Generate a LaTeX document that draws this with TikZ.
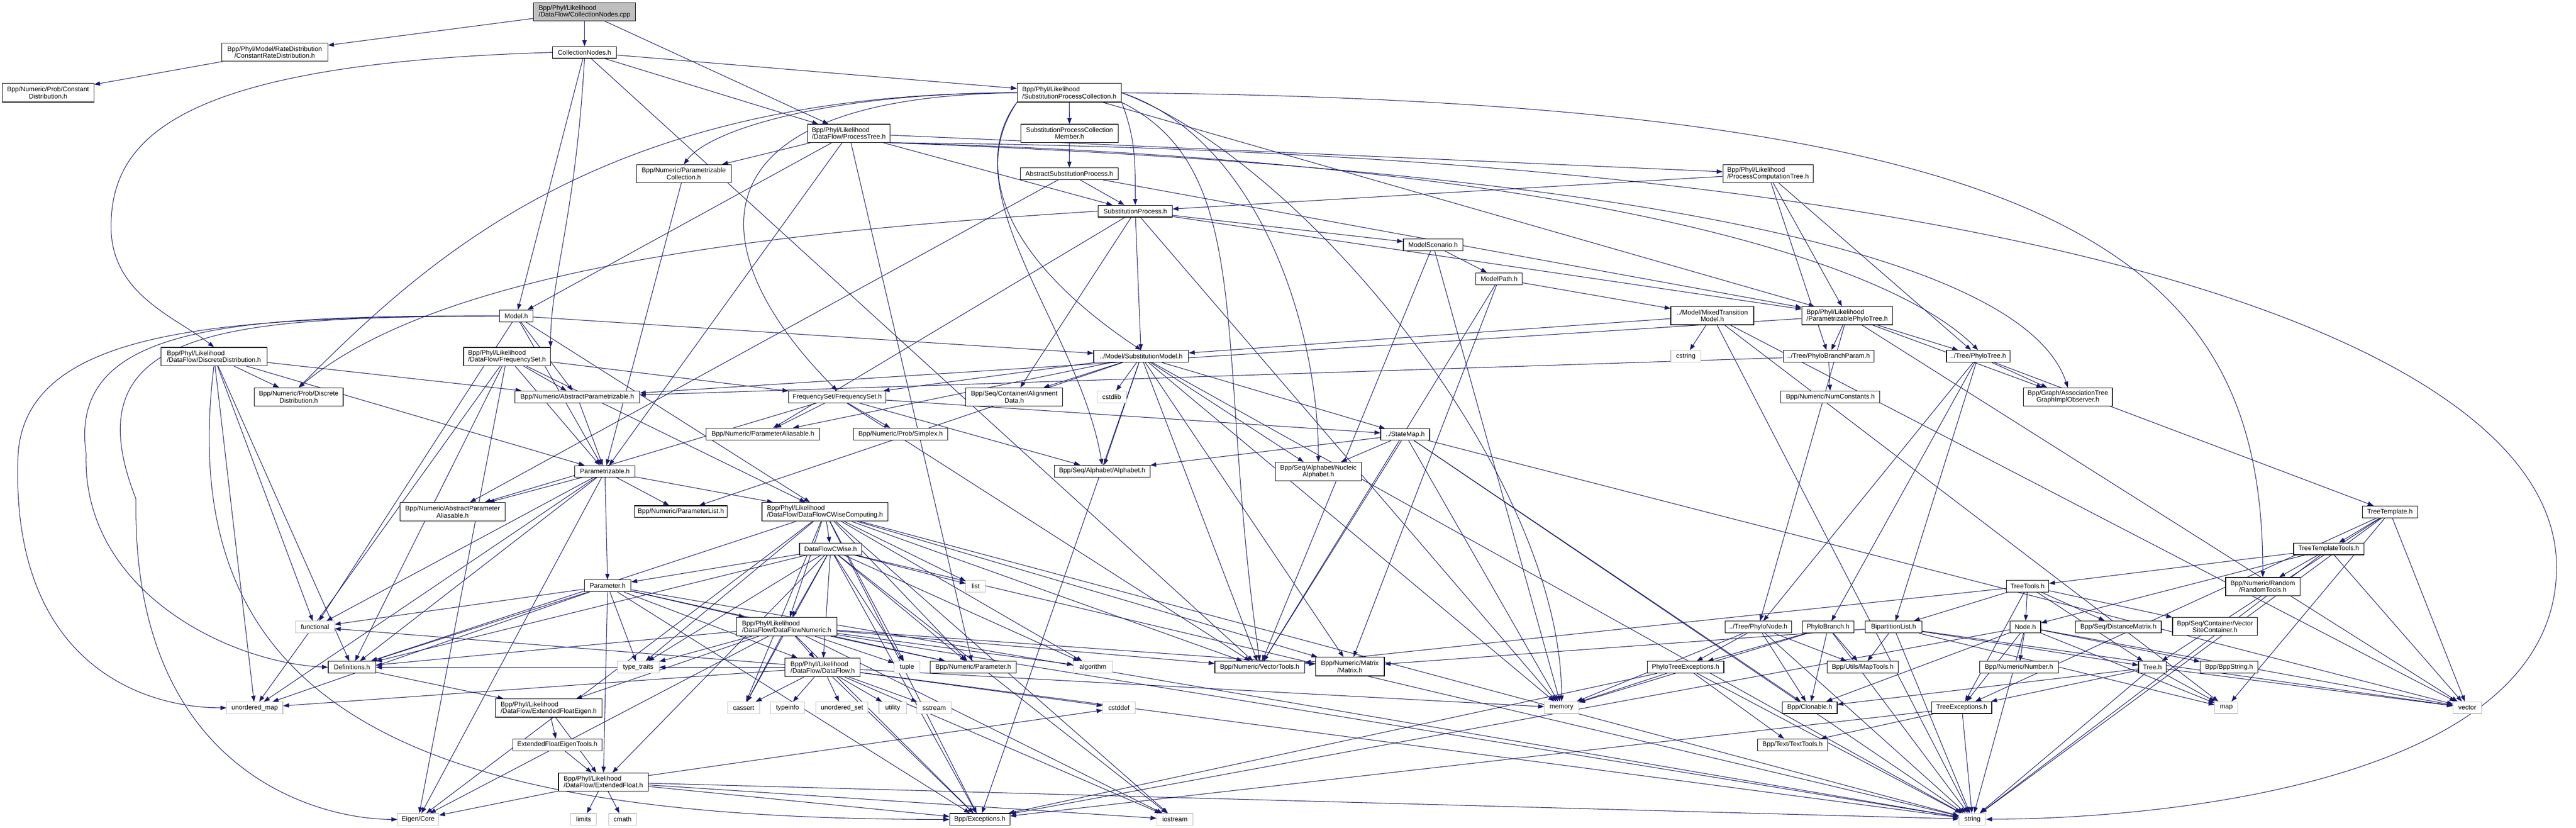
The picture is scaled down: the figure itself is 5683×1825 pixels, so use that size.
\documentclass[tikz,border=0pt]{standalone}
\usepackage{fontspec}
\setmainfont{Liberation Sans}
\usetikzlibrary{arrows.meta}
\definecolor{edgec}{HTML}{191970}
\definecolor{sysg}{HTML}{BFBFBF}
\pgfdeclarelayer{bg}
\pgfsetlayers{bg,main}
\newcommand{\nd}[6]{\node[#1,minimum width=#4pt,minimum height=#5pt] (#2) at (#3) {#6};}
\begin{document}
\begin{tikzpicture}[x=1pt,y=-1pt,
 box/.style={draw=black,line width=1.3pt,fill=white,inner sep=0pt,text=black,font=\fontsize{14.5}{15}\selectfont,align=center},
 lbox/.style={box,align=left},
 sys/.style={box,draw=sysg},
 root/.style={lbox,fill=sysg},
 edge/.style={draw=edgec,line width=1.2pt,-{Triangle[length=13pt,width=9.5pt]}}]
\useasboundingbox (0,0) rectangle (5683,1825);
\nd{root}{cpp}{1289.5,26}{225}{40}{Bpp/Phyl/Likelihood\\/DataFlow/CollectionNodes.cpp}
\nd{box}{crd}{606,115}{234}{40}{Bpp/Phyl/Model/RateDistribution\\/ConstantRateDistribution.h}
\nd{box}{cnh}{1289.5,115.5}{141}{26}{CollectionNodes.h}
\nd{box}{cdist}{106,204.5}{202}{41}{Bpp/Numeric/Prob/Constant\\Distribution.h}
\nd{lbox}{spc}{2359,204.5}{230}{41}{Bpp/Phyl/Likelihood\\/SubstitutionProcessCollection.h}
\nd{lbox}{pt}{1872.5,294}{181}{40}{Bpp/Phyl/Likelihood\\/DataFlow/ProcessTree.h}
\nd{box}{spcm}{2359.5,294}{215}{40}{SubstitutionProcessCollection\\Member.h}
\nd{box}{pcol}{1508.5,383}{209}{40}{Bpp/Numeric/Parametrizable\\Collection.h}
\nd{box}{asp}{2359,383}{216}{26}{AbstractSubstitutionProcess.h}
\nd{lbox}{pct}{3900.5,383}{199}{40}{Bpp/Phyl/Likelihood\\/ProcessComputationTree.h}
\nd{box}{sp}{2504.5,465.5}{163}{26}{SubstitutionProcess.h}
\nd{box}{mscen}{3161.5,540}{131}{26}{ModelScenario.h}
\nd{box}{mpath}{3307,614.5}{102}{26}{ModelPath.h}
\nd{box}{mdl}{1139,696.5}{74}{26}{Model.h}
\nd{box}{mixed}{3777.5,696}{183}{40}{../Model/MixedTransition\\Model.h}
\nd{lbox}{ppt}{4075,696}{200}{40}{Bpp/Phyl/Likelihood\\/ParametrizablePhyloTree.h}
\nd{lbox}{ddf}{472,786}{234}{40}{Bpp/Phyl/Likelihood\\/DataFlow/DiscreteDistribution.h}
\nd{lbox}{fsdf}{1118.5,786}{191}{40}{Bpp/Phyl/Likelihood\\/DataFlow/FrequencySet.h}
\nd{box}{sm}{2517.5,785.5}{209}{26}{../Model/SubstitutionModel.h}
\nd{sys}{cstring}{3719,785.5}{66}{26}{cstring}
\nd{box}{pbp}{4034,785.5}{200}{26}{../Tree/PhyloBranchParam.h}
\nd{box}{ptree}{4364,785.5}{140}{26}{../Tree/PhyloTree.h}
\nd{box}{pdd}{659,875}{196}{40}{Bpp/Numeric/Prob/Discrete\\Distribution.h}
\nd{box}{apz}{1273.5,875}{275}{26}{Bpp/Numeric/AbstractParametrizable.h}
\nd{box}{fsfs}{1847,875}{214}{26}{FrequencySet/FrequencySet.h}
\nd{box}{algn}{2237.5,875}{213}{40}{Bpp/Seq/Container/Alignment\\Data.h}
\nd{sys}{cstdlib}{2452.5,875}{65}{26}{cstdlib}
\nd{box}{numc}{4038,875}{218}{26}{Bpp/Numeric/NumConstants.h}
\nd{box}{atg}{4562,875}{196}{40}{Bpp/Graph/AssociationTree\\GraphImplObserver.h}
\nd{box}{pa}{1683,957}{250}{26}{Bpp/Numeric/ParameterAliasable.h}
\nd{box}{simplex}{1987,957}{208}{26}{Bpp/Numeric/Prob/Simplex.h}
\nd{box}{smap}{3100,958}{108}{25}{../StateMap.h}
\nd{box}{pz}{1334.5,1039}{133}{25}{Parametrizable.h}
\nd{box}{alpha}{2431.5,1038.5}{211}{26}{Bpp/Seq/Alphabet/Alphabet.h}
\nd{box}{nucl}{2908.5,1039.5}{189}{41}{Bpp/Seq/Alphabet/Nucleic\\Alphabet.h}
\nd{box}{apa}{998.5,1128.5}{231}{41}{Bpp/Numeric/AbstractParameter\\Aliasable.h}
\nd{box}{plist}{1502,1128}{204}{26}{Bpp/Numeric/ParameterList.h}
\nd{lbox}{cwc}{1820,1128.5}{278}{41}{Bpp/Phyl/Likelihood\\/DataFlow/DataFlowCWiseComputing.h}
\nd{box}{tt}{5272.5,1128.5}{121}{26}{TreeTemplate.h}
\nd{box}{cw}{1832.5,1210.5}{137}{26}{DataFlowCWise.h}
\nd{box}{ttt}{5137.5,1210}{155}{26}{TreeTemplateTools.h}
\nd{box}{param}{1340.5,1291.5}{103}{26}{Parameter.h}
\nd{sys}{list}{2152.5,1292}{43}{26}{list}
\nd{box}{rand}{4992,1293}{164}{40}{Bpp/Numeric/Random\\/RandomTools.h}
\nd{box}{ttools}{4473,1292}{94}{26}{TreeTools.h}
\nd{sys}{functional}{695,1382.5}{86}{26}{functional}
\nd{lbox}{dfn}{1735.5,1381.5}{221}{41}{Bpp/Phyl/Likelihood\\/DataFlow/DataFlowNumeric.h}
\nd{box}{pnode}{3879,1382.5}{146}{26}{../Tree/PhyloNode.h}
\nd{box}{pbranch}{4033,1382.5}{114}{26}{PhyloBranch.h}
\nd{box}{bip}{4177.5,1382.5}{125}{26}{BipartitionList.h}
\nd{box}{node}{4468,1382}{68}{26}{Node.h}
\nd{box}{dmat}{4673.5,1382}{189}{26}{Bpp/Seq/DistanceMatrix.h}
\nd{box}{vsc}{4886.5,1381}{187}{40}{Bpp/Seq/Container/Vector\\SiteContainer.h}
\nd{box}{defs}{776.5,1471}{105}{26}{Definitions.h}
\nd{sys}{ttraits}{1408,1471}{92}{26}{type\_traits}
\nd{lbox}{df}{1815,1471.5}{166}{41}{Bpp/Phyl/Likelihood\\/DataFlow/DataFlow.h}
\nd{sys}{tuple}{2001,1471}{56}{26}{tuple}
\nd{box}{nparam}{2147,1471}{190}{26}{Bpp/Numeric/Parameter.h}
\nd{sys}{algo}{2411,1471}{86}{26}{algorithm}
\nd{box}{vtools}{2779,1471}{198}{26}{Bpp/Numeric/VectorTools.h}
\nd{box}{matrix}{2978,1469.5}{152}{41}{Bpp/Numeric/Matrix\\/Matrix.h}
\nd{box}{ptexc}{3718.5,1471}{169}{26}{PhyloTreeExceptions.h}
\nd{box}{maptools}{4109.5,1471}{157}{26}{Bpp/Utils/MapTools.h}
\nd{box}{number}{4454,1471}{174}{26}{Bpp/Numeric/Number.h}
\nd{box}{tree}{4748.5,1471}{61}{26}{Tree.h}
\nd{box}{bstr}{4917.5,1471}{127}{26}{Bpp/BppString.h}
\nd{sys}{umap}{562,1560.5}{124}{26}{unordered\_map}
\nd{lbox}{efe}{1210.5,1561}{235}{40}{Bpp/Phyl/Likelihood\\/DataFlow/ExtendedFloatEigen.h}
\nd{sys}{cassert}{1640.5,1560.5}{71}{26}{cassert}
\nd{sys}{typeinfo}{1737.5,1560.5}{75}{26}{typeinfo}
\nd{sys}{uset}{1857.5,1560.5}{115}{26}{unordered\_set}
\nd{sys}{utility}{1969.5,1560.5}{61}{26}{utility}
\nd{sys}{sstream}{2061,1560.5}{76}{26}{sstream}
\nd{sys}{cstddef}{2468.5,1560.5}{71}{26}{cstddef}
\nd{sys}{memory}{3445,1560}{76}{26}{memory}
\nd{box}{clonable}{3992.5,1560}{121}{26}{Bpp/Clonable.h}
\nd{box}{texc}{4328,1560}{132}{26}{TreeExceptions.h}
\nd{sys}{map}{4911.5,1560}{51}{26}{map}
\nd{sys}{vector}{5443,1560}{62}{26}{vector}
\nd{box}{efet}{1229.5,1642}{197}{26}{ExtendedFloatEigenTools.h}
\nd{box}{texttools}{3954.5,1642}{155}{26}{Bpp/Text/TextTools.h}
\nd{lbox}{ef}{1331,1724}{198}{40}{Bpp/Phyl/Likelihood\\/DataFlow/ExtendedFloat.h}
\nd{sys}{eigen}{922.5,1806.5}{91}{26}{Eigen/Core}
\nd{sys}{limits}{1287.5,1806.5}{57}{26}{limits}
\nd{sys}{cmath}{1373.5,1806.5}{61}{26}{cmath}
\nd{box}{exc}{2161.5,1806.5}{133}{26}{Bpp/Exceptions.h}
\nd{sys}{iostream}{2592,1806.5}{80}{26}{iostream}
\nd{sys}{string}{4351.5,1806}{59}{26}{string}
\coordinate (arcR) at (5640,1250);
\coordinate (lA) at (245,500);
\coordinate (lB) at (40,1000);
\coordinate (lC) at (190,1000);
\coordinate (lD) at (300,1100);

\begin{pgfonlayer}{bg}
\fill[white] (0,0) rectangle (5683,1825);
\foreach \s/\t in {cpp/cnh,cpp/crd,cpp/pt,crd/cdist,
 cnh/mdl,cnh/pt,cnh/spc,cnh/vtools,
 pt/pcol,pt/mdl,pt/sp,pt/pct,pt/pz,pt/nparam,
 spc/spcm,spc/ppt,
 spcm/asp,asp/sp,asp/apa,asp/ppt,
 sp/pa,sp/algn,sp/sm,sp/ppt,sp/memory,sp/mscen,
 mscen/mpath,mscen/memory,mscen/vtools,
 mpath/mixed,mpath/matrix,mpath/vtools,
 mixed/sm,mixed/cstring,mixed/string,mixed/map,mixed/vector,
 ppt/apz,ppt/ptree,ppt/pbp,ppt/atg,ppt/pnode,ppt/vector,
 pct/sp,pct/ppt,pct/pbp,pct/ptree,
 pbp/numc,pbp/apz,
 ptree/atg,ptree/pnode,ptree/pbranch,ptree/bip,ptree/tt,
 pnode/ptexc,pnode/clonable,pnode/maptools,pnode/memory,pnode/string,
 pbranch/ptexc,pbranch/maptools,pbranch/clonable,pbranch/memory,pbranch/string,
 bip/maptools,bip/matrix,bip/tree,bip/vector,bip/string,bip/map,
 ptexc/memory,ptexc/texttools,ptexc/string,ptexc/exc,
 texc/texttools,texc/exc,texc/string,
 tt/ttt,tt/tree,tt/map,tt/vector,tt/string,tt/texc,
 ttt/rand,ttt/ttools,ttt/node,ttt/vector,ttt/string,
 ttools/node,ttools/dmat,ttools/vsc,ttools/tree,ttools/texc,ttools/bip,ttools/vtools,
 node/number,node/bstr,node/vector,node/map,node/texc,node/clonable,node/exc,node/string,
 tree/map,tree/vector,tree/texc,tree/string,tree/clonable,
 mdl/functional,mdl/apz,mdl/sm,mdl/cwc,mdl/pz,
 ddf/pdd,ddf/apz,ddf/pz,ddf/defs,ddf/umap,ddf/functional,
 fsdf/fsfs,fsdf/apz,fsdf/pz,fsdf/defs,fsdf/umap,fsdf/eigen,fsdf/cwc,
 pz/apa,pz/param,pz/plist,pz/cwc,pz/defs,pz/umap,pz/functional,pz/eigen,
 apz/pz,pcol/pz,
 param/functional,param/defs,param/umap,param/ef,param/nparam,param/dfn,param/df,param/ttraits,param/exc,param/string,
 cwc/cw,cwc/dfn,cwc/list,cwc/nparam,cwc/algo,cwc/vtools,cwc/iostream,cwc/exc,cwc/string,cwc/defs,cwc/ttraits,cwc/eigen,cwc/cassert,cwc/tuple,cwc/matrix,
 cw/dfn,cw/df,cw/list,cw/param,cw/ttraits,cw/tuple,cw/nparam,cw/algo,cw/iostream,cw/defs,cw/cassert,cw/exc,cw/string,cw/ef,
 dfn/df,dfn/ttraits,dfn/cassert,dfn/tuple,dfn/nparam,dfn/algo,dfn/vtools,dfn/matrix,dfn/eigen,dfn/defs,dfn/efe,dfn/exc,dfn/iostream,dfn/string,
 df/cassert,df/typeinfo,df/uset,df/utility,df/sstream,df/cstddef,df/exc,df/iostream,df/string,df/memory,df/functional,df/umap,df/ttraits,df/defs,
 defs/efe,efe/efet,efe/ef,efet/ef,
 ef/eigen,ef/limits,ef/cmath,ef/exc,ef/iostream,ef/string,ef/cstddef,
 sm/fsfs,sm/algn,sm/cstdlib,sm/alpha,sm/smap,sm/nucl,sm/pa,sm/plist,sm/matrix,sm/vtools,sm/exc,sm/string,sm/memory,
 fsfs/pa,fsfs/simplex,fsfs/alpha,fsfs/smap,fsfs/apa,fsfs/vtools,
 smap/alpha,smap/nucl,smap/vtools,smap/clonable,smap/string,smap/vector,smap/memory}
 \draw[edge] (\s) -- (\t);
% curved connectors
\draw[edge] (cnh.west) .. controls (400,140) and (245,300) .. (lA) .. controls (245,650) and (390,700) .. (ddf.north);
\draw[edge] (cnh.south) .. controls +(-20,350) and +(0,-150) .. (fsdf.north east);
\draw[edge] (spc.south east) .. controls +(30,80) and +(0,-100) .. (sp.north);
\draw[edge] (spc.south west) .. controls +(-100,150) and +(-300,-200) .. (sm.north);
\draw[edge] (spc.south west) .. controls +(-150,200) and +(-50,-300) .. (alpha.north);
\draw[edge] (spc.west) .. controls +(-400,0) and +(60,-80) .. (pcol.north);
\draw[edge] (spc.west) .. controls +(-744,10) and +(-300,-300) .. (fsfs.north);
\draw[edge] (spc.west) .. controls +(-900,0) and +(300,-300) .. (pdd.north);
\draw[edge] (spc.east) .. controls +(300,100) and +(0,-300) .. (nucl.north);
\draw[edge] (spc.east) .. controls +(400,150) and +(0,-500) .. (memory.north);
\draw[edge] (spc.south east) .. controls +(300,150) and +(-100,-700) .. (vtools.north);
\draw[edge] (spc.east) .. controls +(2100,20) and +(0,-700) .. (rand.north);
\draw[edge] (pt.south east) .. controls +(1500,40) and +(-200,-200) .. (ptree.north);
\draw[edge] (pt.south east) .. controls +(1600,60) and +(-100,-300) .. (atg.north);
\draw[edge] (pt.south east) .. controls +(2500,20) and +(0,-500) .. (arcR) .. controls +(0,500) and +(300,0) .. (string.east);
\draw[edge] (sp.west) .. controls +(-800,50) and +(300,-250) .. (pdd.north);
\draw[edge] (mdl.west) .. controls (500,700) and (60,720) .. (lB) .. controls (20,1450) and (300,1560) .. (umap.west);
\draw[edge] (mdl.west) .. controls (500,695) and (150,720) .. (lC) .. controls (180,1300) and (500,1460) .. (defs.west);
\draw[edge] (mdl.west) .. controls (500,700) and (150,720) .. (lD) .. controls (290,1700) and (700,1806) .. (eigen.west);
\draw[edge] (ddf.south) .. controls +(-100,800) and +(-1100,0) .. (exc.west);
\end{pgfonlayer}
\end{tikzpicture}
\end{document}
